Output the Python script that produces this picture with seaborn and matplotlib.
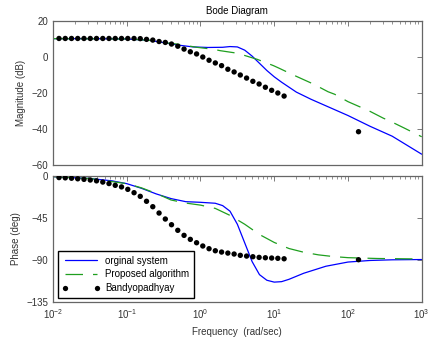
import numpy as np
import pandas as pd
import matplotlib
matplotlib.use("Agg")
import matplotlib.pyplot as plt
from matplotlib.lines import Line2D
from matplotlib.ticker import LogLocator, FixedLocator, NullFormatter
import seaborn as sns

# ---------------- data ----------------
# original system, magnitude (log10 freq, dB)
orig_mag_logf = [-2.0, -1.5, -1.0, -0.7, -0.5, -0.3, -0.1, 0.1, 0.3, 0.4, 0.5, 0.6, 0.7, 0.8, 0.9,
                 1.0, 1.1, 1.3, 1.5, 1.75, 2.0, 2.3, 2.6, 3.0]
orig_mag_db = [10.2, 10.2, 10.0, 9.3, 8.0, 6.6, 5.6, 5.3, 5.4, 5.8, 5.6, 3.8, 0.5, -3.5, -7.5,
               -11.0, -14.0, -19.5, -23.5, -28.0, -32.5, -38.5, -44.0, -54.0]
# proposed algorithm, magnitude
prop_mag_logf = [-2.0, -1.0, -0.7, -0.5, -0.32, -0.05, 0.175, 0.27, 0.5, 0.77, 0.99, 1.07, 1.26,
                 1.53, 1.73, 1.82, 2.0, 2.29, 2.48, 2.56, 2.77, 3.0]
prop_mag_db = [10.2, 10.0, 9.3, 8.0, 7.2, 5.4, 4.3, 3.5, 2.1, -1.3, -4.8, -6.3, -10.0,
               -15.0, -19.3, -20.7, -24.8, -30.0, -34.0, -35.4, -39.6, -44.3]
# original system, phase
orig_ph_logf = [-2.0, -1.5, -1.2, -1.0, -0.8, -0.6, -0.4, -0.2, 0.0, 0.2, 0.3, 0.4, 0.5, 0.6, 0.7,
                0.8, 0.9, 1.0, 1.1, 1.2, 1.4, 1.7, 2.0, 2.3, 2.6, 3.0]
orig_ph_deg = [-1.0, -3.0, -5.5, -8.5, -13.5, -19.5, -24.5, -27.8, -28.5, -29.5, -32.0, -38.0, -52.0,
               -72.0, -92.0, -106.0, -112.0, -114.0, -113.5, -111.0, -104.5, -97.0, -92.5, -90.8,
               -90.1, -89.8]
# proposed algorithm, phase
prop_ph_logf = [-2.0, -1.5, -1.0, -0.8, -0.6, -0.4, -0.2, 0.0, 0.2, 0.4, 0.6, 0.8, 1.0, 1.2, 1.4,
                1.6, 1.8, 2.0, 2.4, 3.0]
prop_ph_deg = [-1.0, -3.0, -8.5, -13.0, -19.0, -26.0, -29.3, -31.5, -35.0, -42.5, -52.0, -63.0,
               -71.5, -78.0, -82.0, -84.8, -86.6, -87.8, -88.7, -89.2]
# Bandyopadhyay (dots)
band_freq = [0.01205, 0.01466, 0.01782, 0.02163, 0.02630, 0.03199, 0.03890, 0.04730, 0.05741,
             0.06982, 0.08492, 0.1033, 0.1256, 0.1524, 0.1854, 0.2254, 0.2742, 0.3334, 0.4046,
             0.4920, 0.5984, 0.7278, 0.8850, 1.074, 1.306, 1.589, 1.932, 2.350, 2.858, 3.467,
             4.217, 5.129, 6.237, 7.586, 9.226, 11.19, 13.61, 139.0]
band_mag = [10.3, 10.3, 10.3, 10.3, 10.3, 10.3, 10.3, 10.3, 10.3, 10.3, 10.3, 10.3, 10.3, 10.2,
            9.8, 9.4, 8.6, 8.1, 7.2, 6.0, 4.4, 2.9, 1.7, 0.0, -1.8, -3.3, -4.8, -6.8, -8.3, -10.0,
            -11.7, -13.5, -15.0, -16.8, -18.5, -20.0, -21.7, -41.5]
band_phase = [-2.0, -2.3, -2.7, -3.3, -3.9, -4.6, -5.5, -6.8, -8.4, -10.3, -12.0, -14.6, -18.2,
              -22.1, -27.4, -33.2, -40.0, -46.4, -52.5, -58.5, -63.9, -68.2, -71.8, -75.3, -78.2,
              -80.4, -81.8, -82.9, -83.9, -85.3, -86.1, -86.8, -87.5, -87.9, -88.2, -88.5, -89.0,
              -90.0]

mag_ticks = [20, 0, -20, -40, -60]
phase_ticks = [0, -45, -90, -135]
legend_labels = ["orginal system", "Proposed algorithm", "Bandyopadhyay"]

# ---------------- style ----------------
sns.set_style("white")
plt.rcParams["font.family"] = ["Liberation Sans", "DejaVu Sans"]
plt.rcParams["mathtext.fontset"] = "custom"
plt.rcParams["mathtext.rm"] = "Liberation Sans"
plt.rcParams["mathtext.it"] = "Liberation Sans"
plt.rcParams["mathtext.default"] = "regular"

BLUE = "#0000ff"
GREEN = "#1f9f1f"
TXT = "#333333"
SPINE = "#666666"
FS = 7

df_om = pd.DataFrame({"f": 10 ** np.array(orig_mag_logf), "v": orig_mag_db})
df_pm = pd.DataFrame({"f": 10 ** np.array(prop_mag_logf), "v": prop_mag_db})
df_op = pd.DataFrame({"f": 10 ** np.array(orig_ph_logf), "v": orig_ph_deg})
df_pp = pd.DataFrame({"f": 10 ** np.array(prop_ph_logf), "v": prop_ph_deg})
df_b = pd.DataFrame({"f": band_freq, "m": band_mag, "p": band_phase})

fig = plt.figure(figsize=(4.3, 3.41), dpi=100)
ax1 = fig.add_axes([0.1233, 0.5161, 0.8574, 0.4223])
ax2 = fig.add_axes([0.1233, 0.1152, 0.8574, 0.3695])

dash = (14, 8)
for ax, dfo, dfp, col in [(ax1, df_om, df_pm, "m"), (ax2, df_op, df_pp, "p")]:
    ax.set_xscale("log")
    sns.lineplot(data=dfo, x="f", y="v", ax=ax, color=BLUE, lw=0.9, estimator=None)
    sns.lineplot(data=dfp, x="f", y="v", ax=ax, color=GREEN, lw=0.9, estimator=None,
                 linestyle=(0, dash))
    sns.scatterplot(data=df_b, x="f", y=col, ax=ax, color="black", s=15, marker="o",
                    edgecolor="none", zorder=5)
    ax.set_xlim(1e-2, 1e3)
    ax.xaxis.set_major_locator(LogLocator(base=10, numticks=10))
    ax.xaxis.set_minor_locator(LogLocator(base=10, subs=np.arange(2, 10), numticks=20))
    ax.tick_params(which="both", direction="in", top=True, right=True, colors=SPINE,
                   labelcolor=TXT, labelsize=FS)
    ax.tick_params(which="major", length=3.5, width=0.6)
    ax.tick_params(which="minor", length=2, width=0.5)
    for s in ax.spines.values():
        s.set_color(SPINE)
        s.set_linewidth(0.9)
    ax.set_xlabel("")

ax1.set_ylim(-60, 20)
ax1.yaxis.set_major_locator(FixedLocator(mag_ticks))
ax1.xaxis.set_major_formatter(NullFormatter())
ax1.set_ylabel("Magnitude (dB)", fontsize=FS, color=TXT, labelpad=4)
ax1.set_title("Bode Diagram", fontsize=FS, color="black", pad=5)

ax2.set_ylim(-135, 0)
ax2.yaxis.set_major_locator(FixedLocator(phase_ticks))
ax2.set_ylabel("Phase (deg)", fontsize=FS, color=TXT, labelpad=4)
ax2.set_xlabel("Frequency  (rad/sec)", fontsize=FS, color=TXT, labelpad=4)
ax2.tick_params(axis="x", pad=4)

handles = [
    Line2D([], [], color=BLUE, lw=0.9),
    Line2D([], [], color=GREEN, lw=0.9, linestyle=(0, dash)),
    Line2D([], [], color="black", lw=0, marker="o", markersize=3.8, markeredgewidth=0),
]
leg = ax2.legend(handles, legend_labels, loc="lower left", bbox_to_anchor=(0.0136, 0.032),
                 borderaxespad=0, fontsize=FS, frameon=True, fancybox=False, numpoints=2,
                 handlelength=3.9, handletextpad=0.5, borderpad=0.45, labelspacing=0.4)
leg.get_frame().set_edgecolor("black")
leg.get_frame().set_linewidth(1.0)
leg.get_frame().set_facecolor("white")
leg.get_frame().set_alpha(1.0)
for t in leg.get_texts():
    t.set_color("black")

fig.savefig("out.png", dpi=100)
